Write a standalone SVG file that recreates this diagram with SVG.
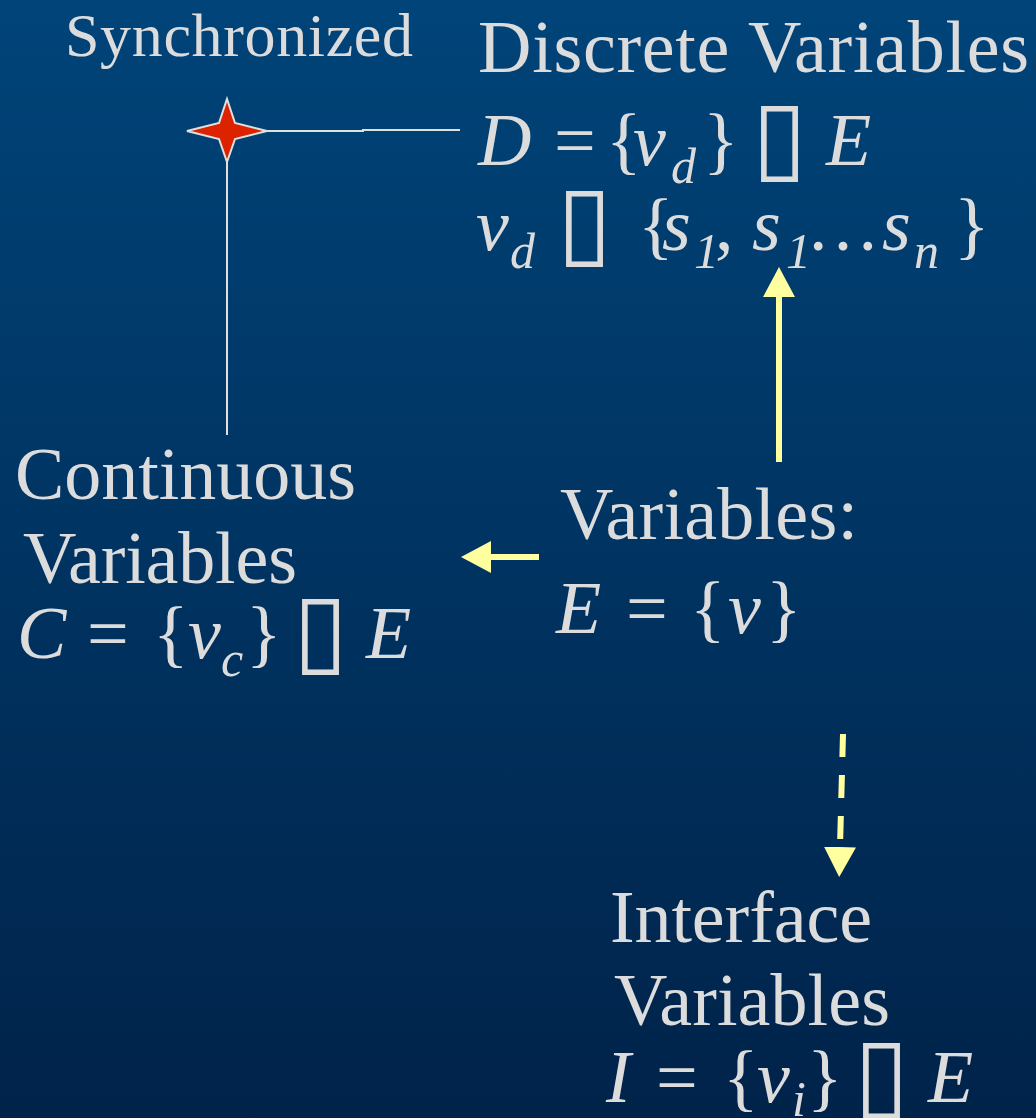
<svg xmlns="http://www.w3.org/2000/svg" width="1036" height="1118" viewBox="0 0 1036 1118">
<defs>
<linearGradient id="bg" x1="0" y1="0" x2="0" y2="1">
<stop offset="0" stop-color="#004479"/>
<stop offset="1" stop-color="#00234a"/>
</linearGradient>
<marker id="ah" viewBox="0 0 30 32" refX="0" refY="16" markerWidth="30" markerHeight="32" markerUnits="userSpaceOnUse" orient="auto">
<path d="M0,0 L30,16 L0,32 Z" fill="#ffffa0"/>
</marker>
<style>
text{font-family:"Liberation Serif","Times New Roman",serif;fill:#dcdcdc;font-size:74px}
.i{font-style:italic}
.sub{font-size:50px;font-style:italic}
.box{font-family:"DejaVu Sans",sans-serif;font-size:100px}
.thin{stroke:#e0e0e0;stroke-width:2;fill:none}
.ya{stroke:#ffffa0;stroke-width:6;fill:none;marker-end:url(#ah)}
</style>
</defs>
<rect width="1036" height="1118" fill="url(#bg)"/>
<g id="connectors">
<polyline class="thin" points="267,131 363,131 363,130 460,130"/>
<line class="thin" x1="227" y1="160" x2="227" y2="435"/>
<line class="ya" x1="779" y1="462" x2="779" y2="297"/>
<line class="ya" x1="539" y1="557" x2="491" y2="557"/>
<line class="ya" x1="843" y1="734" x2="840" y2="847" stroke-dasharray="23 18"/>
</g>
<g id="synchronized">
<path d="M227,99 L235,123 L267,131 L235,139 L227,162 L219,139 L187,131 L219,123 Z" fill="#dd2200" stroke="#e0e0e0" stroke-width="2" stroke-linejoin="miter"/>
<text x="65" y="56" style="font-size:62px" textLength="348" lengthAdjust="spacing">Synchronized</text>
</g>
<g id="discrete">
<text x="478" y="72" textLength="551" lengthAdjust="spacing">Discrete Variables</text>
<text y="165"><tspan class="i" x="478">D</tspan><tspan x="554">=</tspan><tspan x="606">{</tspan><tspan class="i" x="633">v</tspan><tspan class="sub" x="671" dy="18">d</tspan><tspan x="703" dy="-18">}</tspan><tspan class="box" x="752" dy="5">▯</tspan><tspan class="i" x="826" dy="-5">E</tspan></text>
<text y="250"><tspan class="i" x="476">v</tspan><tspan class="sub" x="510" dy="18">d</tspan><tspan class="box" x="557" dy="-13">▯</tspan><tspan x="638" dy="-5">{</tspan><tspan class="i" x="662">s</tspan><tspan class="sub" x="694" dy="18">1</tspan><tspan x="715" dy="-18">,</tspan><tspan class="i" x="752">s</tspan><tspan class="sub" x="786" dy="18">1</tspan><tspan x="806" dy="-18">…</tspan><tspan class="i" x="882">s</tspan><tspan class="sub" x="914" dy="18">n</tspan><tspan x="954" dy="-18">}</tspan></text>
</g>
<g id="continuous">
<text x="15" y="499" textLength="341" lengthAdjust="spacing">Continuous</text>
<text x="23" y="583" textLength="274" lengthAdjust="spacing">Variables</text>
<text y="658"><tspan class="i" x="17">C</tspan><tspan x="87">=</tspan><tspan x="153">{</tspan><tspan class="i" x="188">v</tspan><tspan class="sub" x="221" dy="18">c</tspan><tspan x="246" dy="-18">}</tspan><tspan class="box" x="293" dy="5">▯</tspan><tspan class="i" x="366" dy="-5">E</tspan></text>
</g>
<g id="variables">
<text x="560" y="539" textLength="298" lengthAdjust="spacing">Variables:</text>
<text y="633"><tspan class="i" x="556">E</tspan><tspan x="626">=</tspan><tspan x="690">{</tspan><tspan class="i" x="728">v</tspan><tspan x="766">}</tspan></text>
</g>
<g id="interface">
<text x="610" y="942" textLength="262" lengthAdjust="spacing">Interface</text>
<text x="614" y="1025" textLength="276" lengthAdjust="spacing">Variables</text>
<text y="1102"><tspan class="i" x="606">I</tspan><tspan x="656">=</tspan><tspan x="723">{</tspan><tspan class="i" x="757">v</tspan><tspan class="sub" x="792" dy="14">i</tspan><tspan x="807" dy="-14">}</tspan><tspan class="box" x="854" dy="5">▯</tspan><tspan class="i" x="928" dy="-5">E</tspan></text>
</g>
</svg>
